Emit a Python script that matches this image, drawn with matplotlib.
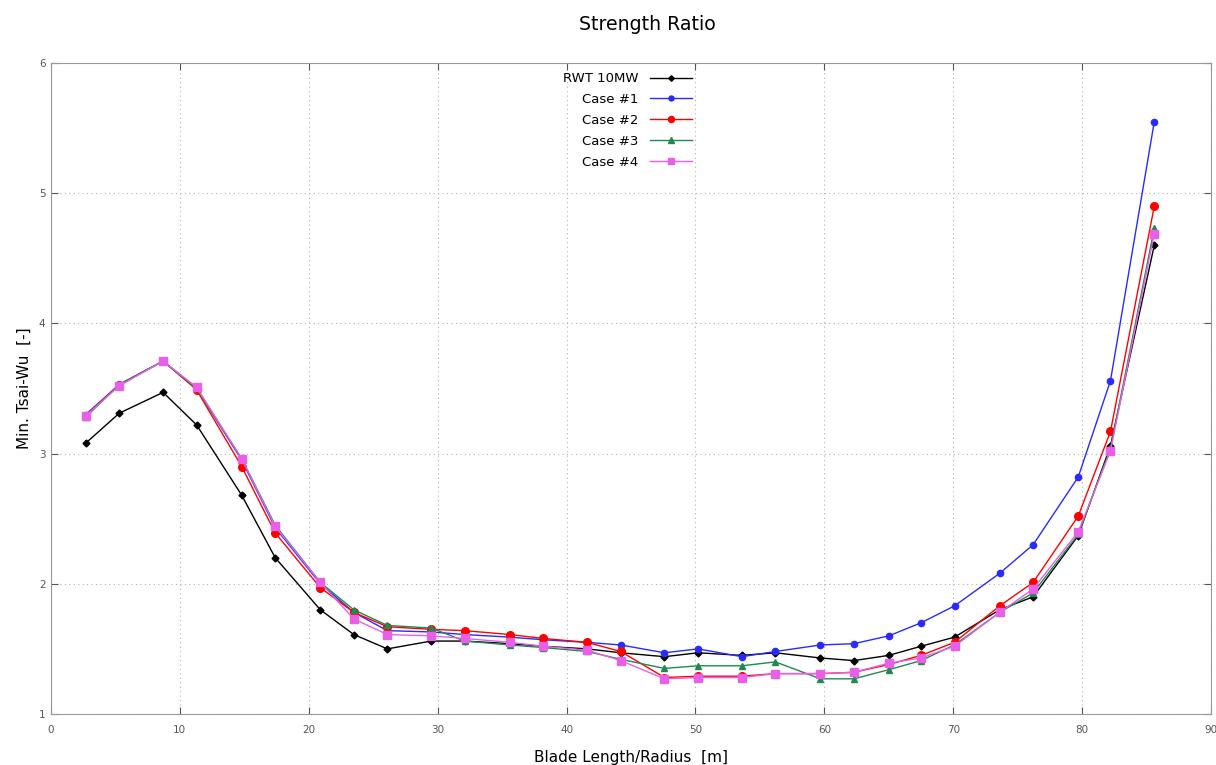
"""
Strength ratio along the blade: min. Tsai-Wu for the reference turbine and four cases.
"""
import matplotlib
matplotlib.use('Agg')
import matplotlib.pyplot as plt

# stations along the blade [m]
span = [2.7, 5.3, 8.7, 11.3, 14.8, 17.4, 20.9, 23.5, 26.1, 29.5, 32.1, 35.6, 38.2,
        41.6, 44.2, 47.6, 50.2, 53.6, 56.2, 59.7, 62.3, 65.0, 67.5, 70.1, 73.6,
        76.2, 79.7, 82.2, 85.6]

rwt_10mw = [3.08, 3.31, 3.47, 3.22, 2.68, 2.20, 1.80, 1.61, 1.50, 1.56, 1.56, 1.54, 1.52,
            1.50, 1.47, 1.44, 1.47, 1.45, 1.47, 1.43, 1.41, 1.45, 1.52, 1.59, 1.80,
            1.90, 2.37, 3.06, 4.60]
case1 = [3.30, 3.53, 3.71, 3.50, 2.95, 2.43, 2.00, 1.78, 1.64, 1.63, 1.61, 1.59, 1.57,
         1.55, 1.53, 1.47, 1.50, 1.44, 1.48, 1.53, 1.54, 1.60, 1.70, 1.83, 2.08,
         2.30, 2.82, 3.56, 5.55]
case2 = [3.29, 3.53, 3.71, 3.49, 2.90, 2.39, 1.97, 1.78, 1.67, 1.65, 1.64, 1.61, 1.58,
         1.55, 1.48, 1.28, 1.29, 1.29, 1.31, 1.31, 1.32, 1.38, 1.45, 1.55, 1.83,
         2.01, 2.52, 3.17, 4.90]
case3 = [3.28, 3.53, 3.71, 3.50, 2.96, 2.45, 2.01, 1.80, 1.68, 1.66, 1.56, 1.53, 1.51,
         1.48, 1.42, 1.35, 1.37, 1.37, 1.40, 1.27, 1.27, 1.34, 1.41, 1.53, 1.78,
         1.93, 2.38, 3.04, 4.73]
case4 = [3.29, 3.52, 3.71, 3.51, 2.96, 2.44, 2.01, 1.73, 1.61, 1.60, 1.58, 1.55, 1.52,
         1.49, 1.41, 1.27, 1.28, 1.28, 1.31, 1.31, 1.32, 1.39, 1.43, 1.52, 1.78,
         1.96, 2.40, 3.02, 4.69]

series = [
    ('RWT 10MW', rwt_10mw, 'black', 'D', 3.5),
    ('Case #1', case1, '#2a2aff', 'o', 4.5),
    ('Case #2', case2, '#ff0000', 'o', 5.5),
    ('Case #3', case3, '#1f8a50', '^', 5),
    ('Case #4', case4, '#e860e8', 's', 5.5),
]

fig = plt.figure(figsize=(12.16, 7.65), dpi=100)
ax = fig.add_axes([0.0419, 0.0667, 0.9540, 0.8510])

for label, vals, color, marker, ms in series:
    ax.plot(span, vals, color=color, marker=marker, markersize=ms, linewidth=1.0,
            label=label)

ax.set_xlim(0, 90)
ax.set_ylim(1, 6)
ax.set_xticks(range(0, 91, 10))
ax.set_yticks(range(1, 7))
ax.grid(True, linestyle=(0, (1, 3)), color='#b0b0b0', linewidth=0.8)
ax.tick_params(direction='in', length=5, labelsize=7.5, colors='#555555',
               top=True, right=True, pad=4)
ax.tick_params(axis='x', pad=8)
for s in ax.spines.values():
    s.set_color('#999999')

fig.suptitle('Strength Ratio', x=0.532, y=0.98, fontsize=13.6)
ax.set_xlabel('Blade Length/Radius  [m]', fontsize=11, labelpad=11)
ax.set_ylabel('Min. Tsai-Wu  [-]', fontsize=11, labelpad=5)

ax.legend(loc='upper center', bbox_to_anchor=(0.497, 1.0), frameon=False,
          markerfirst=False, fontsize=9.5, handlelength=3.2, labelspacing=0.6,
          handletextpad=0.9, borderaxespad=0.3, markerscale=0.8)

fig.savefig('out.png', dpi=100)
